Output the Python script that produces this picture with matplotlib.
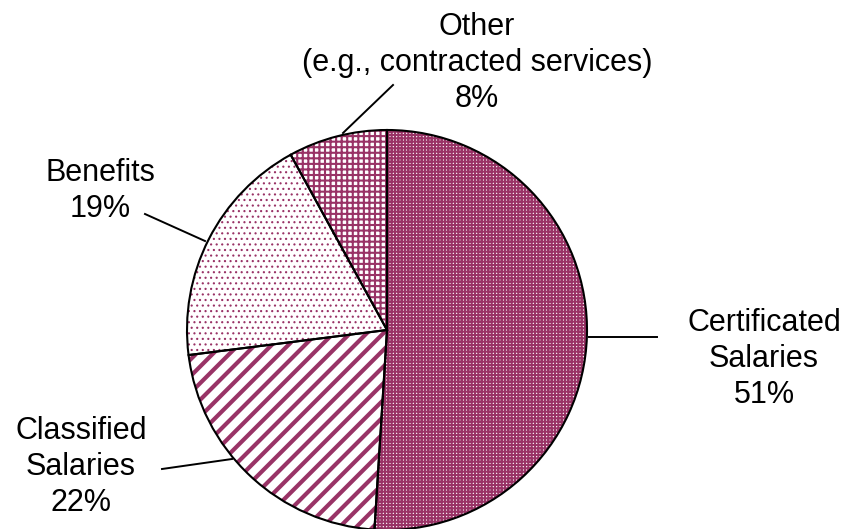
import matplotlib
matplotlib.use("Agg")
import matplotlib.pyplot as plt

# budget shares, clockwise from 12 o'clock
categories = ["Certificated\nSalaries", "Classified\nSalaries", "Benefits",
              "Other\n(e.g., contracted services)"]
shares = [51, 22, 19, 8]

PLUM = "#993366"
HATCHES = ["+++++", "//", "...", "+++"]
HATCH_LW = [1.5, 3.0, 0.8, 1.5]

W, H = 847, 529

# label anchor (image px, y from top) and leader line end points
label_pos = [(764, 359), (81, 467), (100, 191), (477, 63)]
leaders = [((589, 337), (657, 337)),
           ((162, 469), (232, 459)),
           ((145, 214), (205, 241)),
           ((343, 133), (393, 85))]

plt.rcParams["font.family"] = ["Liberation Sans", "DejaVu Sans"]

fig = plt.figure(figsize=(W / 100, H / 100), dpi=100)
ax = fig.add_axes([0, 0, 1, 1])

center = (387, H - 330)
radius = 200

# hatched fill in plum, then a black outline on top
wedges, _ = ax.pie(shares, startangle=90, counterclock=False, center=center,
                   radius=radius, frame=True,
                   wedgeprops=dict(facecolor="white", edgecolor=PLUM, linewidth=0))
for w, h, lw in zip(wedges, HATCHES, HATCH_LW):
    w.set_hatch(h)
    try:
        w.set_hatch_linewidth(lw)
    except AttributeError:
        pass

ax.pie(shares, startangle=90, counterclock=False, center=center, radius=radius,
       frame=True, wedgeprops=dict(fill=False, edgecolor="black", linewidth=1.5))
ax.set_xlim(0, W)
ax.set_ylim(0, H)
ax.set_aspect("equal")
ax.axis("off")

for name, pct, (x, y) in zip(categories, shares, label_pos):
    ax.text(x, H - y, f"{name}\n{pct}%", ha="center", va="center",
            fontsize=22, linespacing=1.27, color="black")

for (x0, y0), (x1, y1) in leaders:
    ax.plot([x0, x1], [H - y0, H - y1], color="black", linewidth=1.4)

fig.savefig("out.png", dpi=100)
